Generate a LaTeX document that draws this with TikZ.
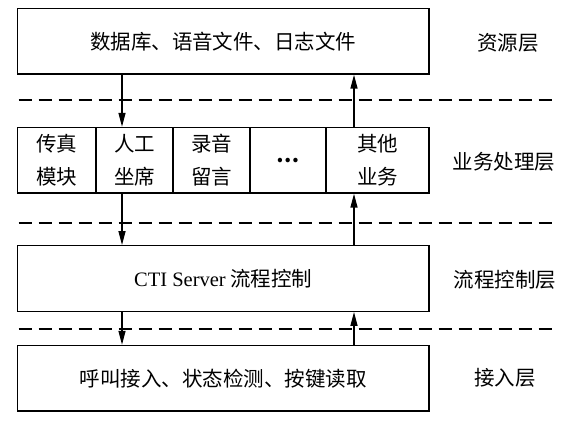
\documentclass[tikz,border=0pt]{standalone}
\usepackage{fontspec}
\setmainfont{Noto Sans CJK SC}
\newfontfamily\latinfont{Liberation Serif}
\usetikzlibrary{arrows.meta}
\tikzset{
  box/.style={draw, line width=1.4pt, minimum height=65.5pt, inner sep=0pt, font=\fontsize{20.5pt}{24pt}\selectfont},
  cell/.style={draw, line width=1.4pt, minimum height=65.5pt, inner sep=0pt, align=center, font=\fontsize{20.5pt}{33pt}\selectfont},
  layerlabel/.style={inner sep=0pt, font=\fontsize{20.5pt}{24pt}\selectfont},
  arr/.style={line width=1.4pt, -{Triangle[length=14pt,width=7pt]}},
  sep/.style={line width=1.8pt, dash pattern=on 13.3pt off 6.7pt},
}
\begin{document}
\begin{tikzpicture}[x=1pt,y=-1pt]
\useasboundingbox (0,0) rectangle (571,422);
% boxes
\node[box, minimum width=411.5pt] (res) at (223.25,41.25) {数据库、语音文件、日志文件};
\node[cell, minimum width=78.5pt] (c1) at (56.75,160.25) {传真\\模块};
\node[cell, minimum width=77pt] (c2) at (134.5,160.25) {人工\\坐席};
\node[cell, minimum width=77pt] (c3) at (211.5,160.25) {录音\\留言};
\node[cell, minimum width=76pt] (c4) at (288,160.25) {\textbf{…}};
\node[cell, minimum width=103pt] (c5) at (377.5,160.25) {其他\\业务};
\node[box, minimum width=411.5pt] (cti) at (223.25,278.5) {{\latinfont CTI Server} 流程控制};
\node[box, minimum width=411.5pt] (acc) at (223.25,378.25) {呼叫接入、状态检测、按键读取};
% layer labels
\node[layerlabel] (l1) at (508,43) {资源层};
\node[layerlabel] (l2) at (504,162) {业务处理层};
\node[layerlabel] (l3) at (505,280) {流程控制层};
\node[layerlabel] (l4) at (505,378) {接入层};
% separators
\draw[sep] (18.5,100) -- (553,100);
\draw[sep] (18.5,223) -- (553,223);
\draw[sep] (18.5,329) -- (553,329);
% arrows
\coordinate (dx) at (122,0);
\coordinate (ux) at (354,0);
\draw[arr] (res.south -| dx) -- (c2.north -| dx);
\draw[arr] (c2.south -| dx) -- (cti.north -| dx);
\draw[arr] (cti.south -| dx) -- (acc.north -| dx);
\draw[arr] (acc.north -| ux) -- (cti.south -| ux);
\draw[arr] (cti.north -| ux) -- (c5.south -| ux);
\draw[arr] (c5.north -| ux) -- (res.south -| ux);
\end{tikzpicture}
\end{document}
